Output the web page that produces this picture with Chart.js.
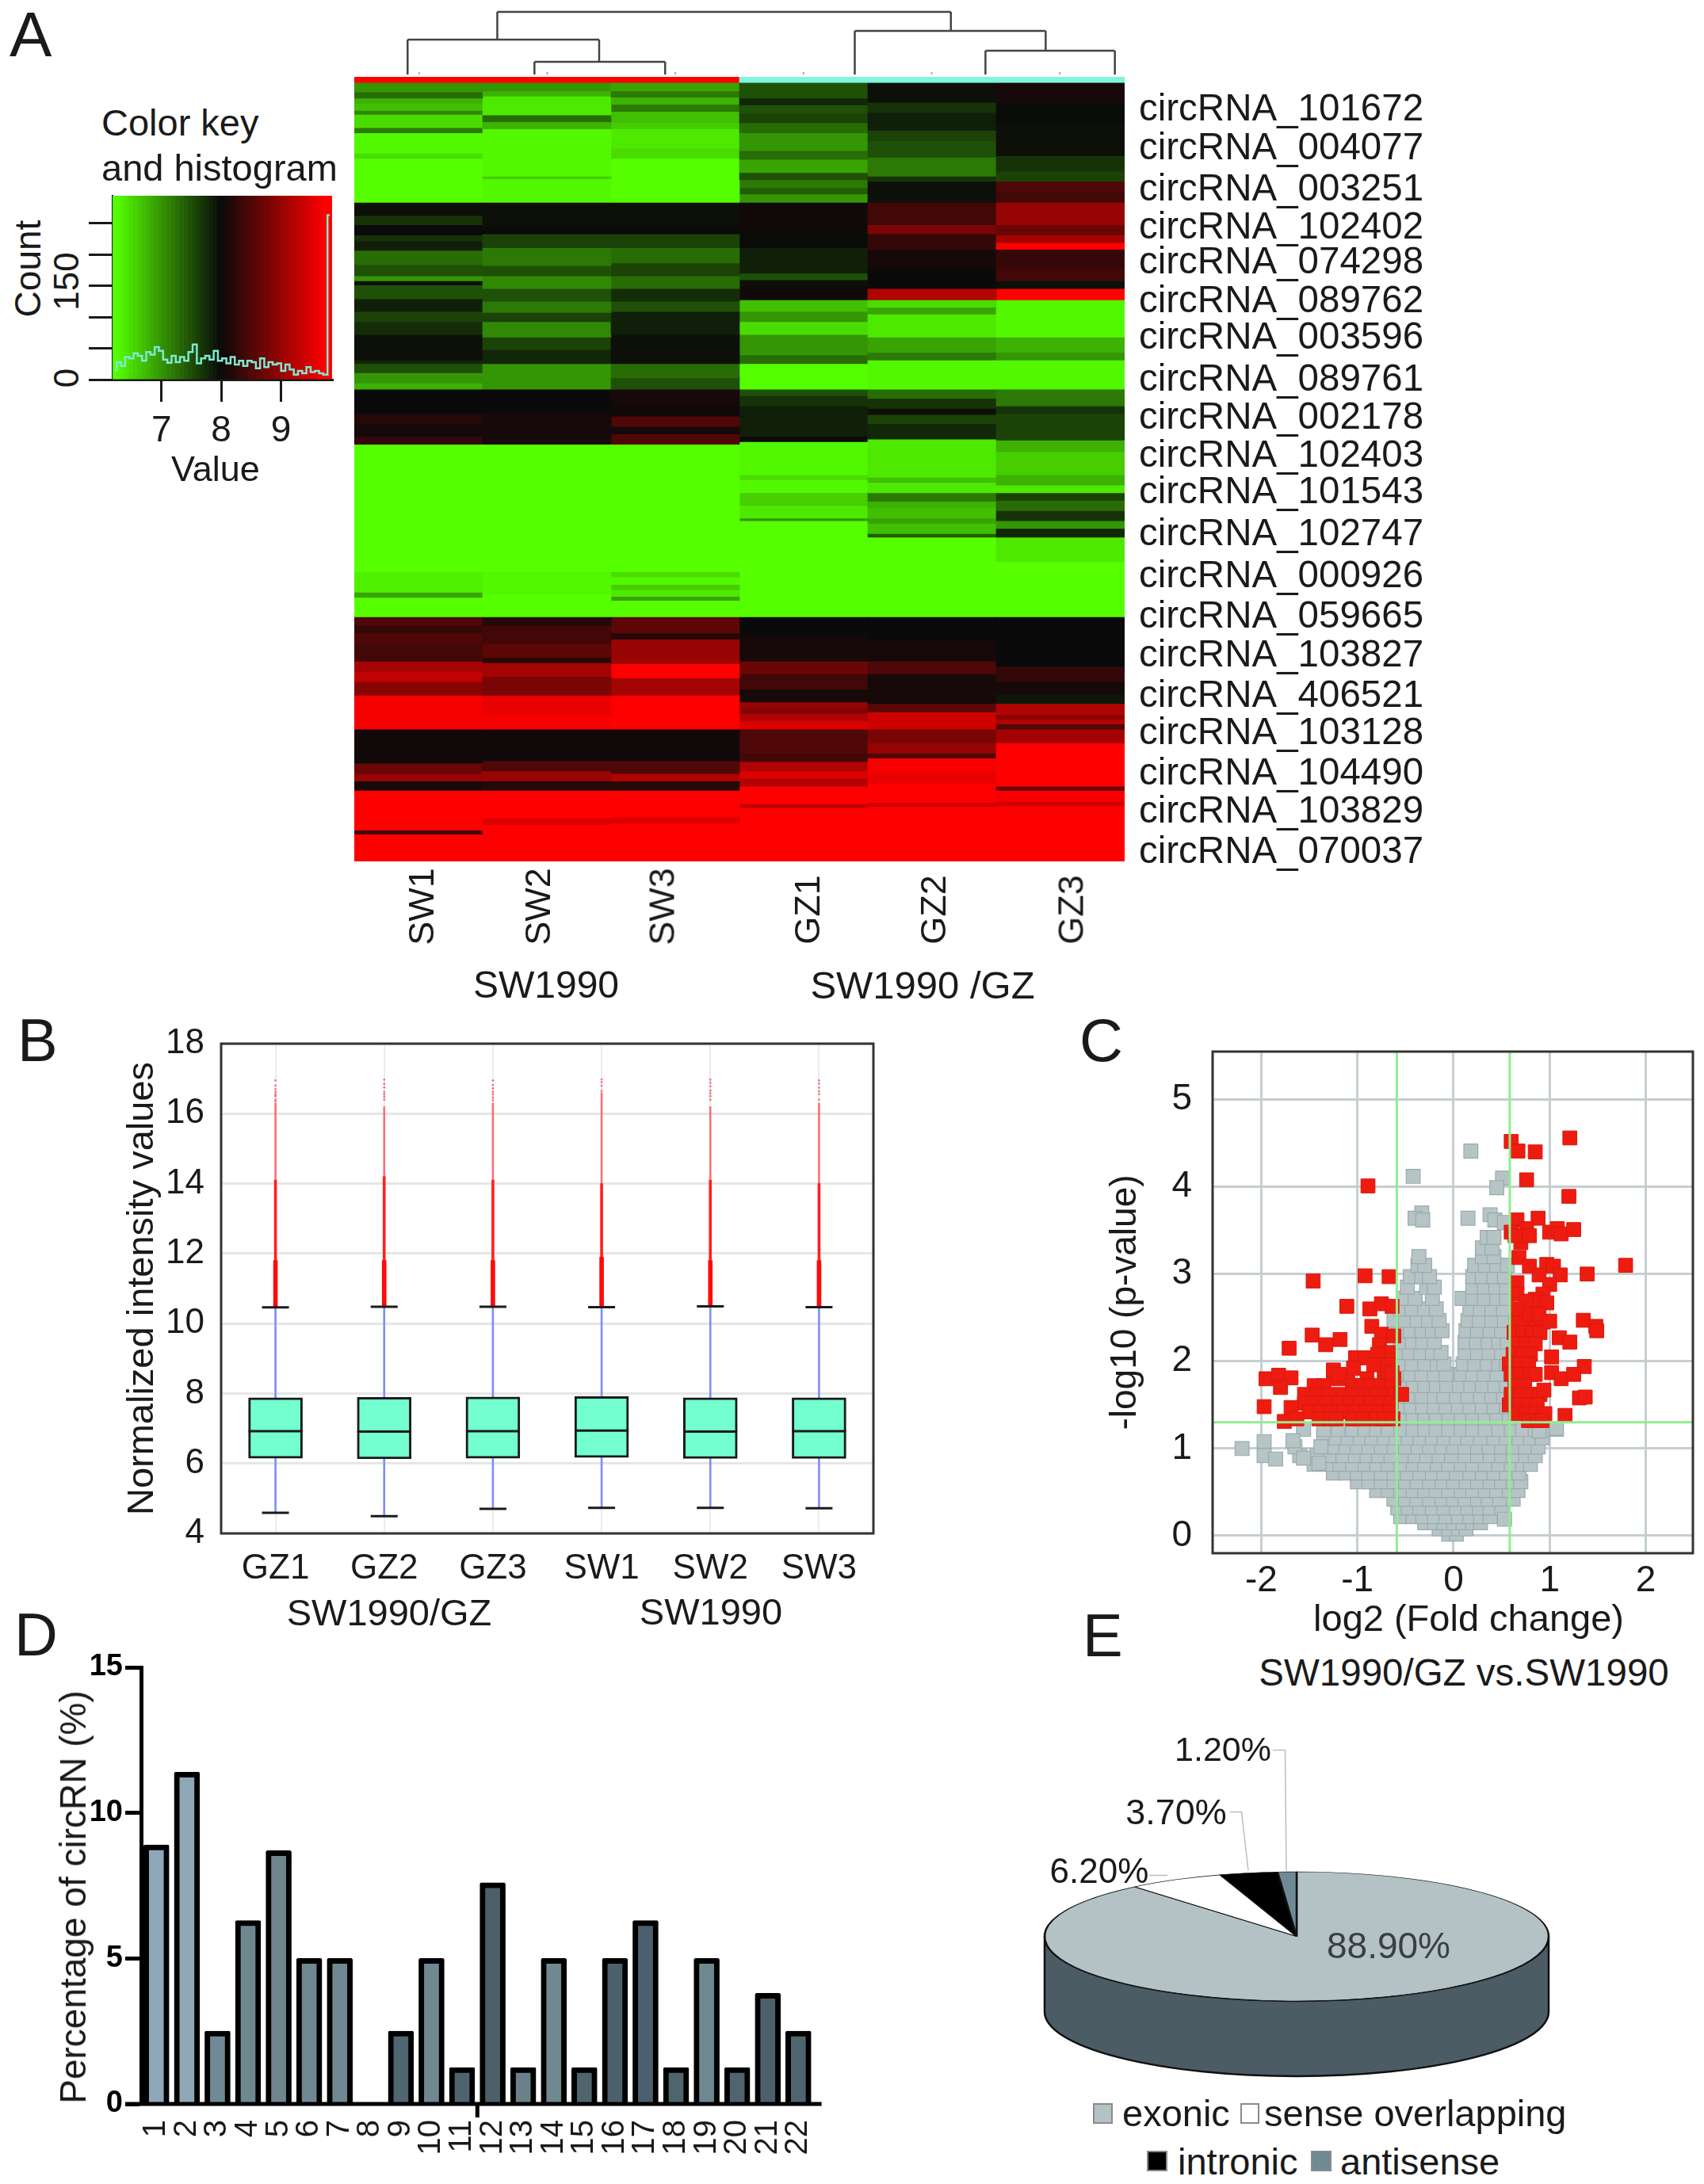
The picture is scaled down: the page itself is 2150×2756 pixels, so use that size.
<!DOCTYPE html>
<html><head><meta charset="utf-8">
<script src="https://cdn.jsdelivr.net/npm/chart.js@4/dist/chart.umd.js"></script>
<style>
html,body{margin:0;padding:0;background:#fff;width:2150px;height:2756px;overflow:hidden}
#page{position:relative;width:2150px;height:2756px;overflow:hidden}
canvas{position:absolute}
.t{position:absolute;white-space:nowrap;font-family:"Liberation Sans",Arial,sans-serif;color:#1a1a1a;line-height:1}
.s{position:absolute;box-sizing:border-box;border:2px solid #8a8a8a}
</style></head><body><div id="page"></div>
<script>
// ---------- Panel A: heatmap bands, [row where the band ends, expression value]
const heatColumns = ["SW1","SW2","SW3","GZ1","GZ2","GZ3"];
const bandsSW1 = [[40,7.0],[52,7.3],[62,6.8],[76,6.7],[84,7.1],[110,6.5],[120,7.2],[160,6.3],[170,6.5],[256,6.25],
 [282,7.95],[300,7.7],[320,8.0],[332,7.7],[350,7.85],[378,7.3],[400,7.5],[410,7.0],[418,7.95],[445,7.5],[470,7.85],[490,7.6],[515,7.75],[565,7.95],[572,7.8],[590,7.5],[610,7.0],[622,6.8],
 [670,8.0],[690,8.2],[715,8.1],[730,8.3],
 [980,6.2],[1020,6.35],[1030,6.9],[1068,6.25],
 [1085,8.5],[1100,8.3],[1120,8.5],[1155,8.4],[1175,9.1],[1195,9.3],[1222,8.9],[1288,9.7],[1355,8.05],[1375,8.7],[1390,9.0],[1408,8.1],[1486,9.8],[1494,8.4],[1548,9.8]];
const bandsSW2 = [[38,7.0],[48,6.8],[85,6.4],[98,7.3],[112,6.8],[205,6.3],[210,6.6],[256,6.3],
 [305,7.95],[318,8.0],[345,7.6],[380,7.2],[400,7.5],[425,7.1],[450,7.5],[472,7.2],[490,7.6],[520,7.1],[545,7.6],[572,7.8],[622,7.0],
 [670,8.0],[730,8.1],
 [980,6.2],[1025,6.3],[1068,6.22],
 [1085,8.2],[1120,8.4],[1148,8.6],[1158,8.2],[1185,9.1],[1222,8.8],[1260,9.6],[1288,9.7],[1350,8.05],[1370,8.5],[1390,9.0],[1408,8.2],[1462,9.8],[1475,9.5],[1548,9.8]];
const bandsSW3 = [[38,6.9],[50,7.2],[64,6.8],[78,7.2],[100,6.7],[112,6.6],[150,6.4],[170,6.5],[256,6.25],
 [300,7.95],[318,8.0],[345,7.6],[375,7.3],[400,7.6],[425,7.3],[450,7.75],[470,7.5],[515,7.85],[572,7.95],[600,7.3],[622,7.5],
 [650,8.1],[675,8.05],[695,8.5],[710,8.1],[730,8.5],
 [980,6.2],[990,6.5],[1005,6.3],[1015,6.6],[1028,6.4],[1036,6.9],[1068,6.22],
 [1100,8.6],[1112,8.2],[1150,9.0],[1160,9.1],[1188,9.8],[1222,9.1],[1288,9.8],[1350,8.05],[1375,8.5],[1390,9.2],[1408,8.2],[1460,9.8],[1472,9.5],[1548,9.8]];
const bandsGZ1 = [[52,7.5],[65,7.8],[82,7.5],[100,7.6],[120,7.3],[155,7.0],[172,7.3],[198,6.9],[212,7.5],[228,7.2],[240,7.4],[256,7.0],
 [315,8.05],[345,7.98],[395,7.85],[408,7.5],[420,7.95],[447,8.05],[470,6.7],[490,7.0],[515,6.5],[555,7.0],[572,7.3],[622,6.25],
 [635,7.5],[655,7.7],[675,7.85],[715,7.85],[725,8.0],
 [790,6.3],[800,6.5],[825,6.3],[850,6.6],[875,6.4],[880,7.0],[1068,6.2],
 [1105,8.0],[1155,8.1],[1180,8.7],[1210,8.4],[1235,8.1],[1245,9.0],[1258,8.9],[1272,9.2],[1288,9.5],[1335,8.5],[1352,8.4],[1370,9.2],[1385,9.5],[1400,9.2],[1435,9.8],[1442,9.3],[1548,9.8]];
const bandsGZ2 = [[60,7.95],[80,7.7],[115,7.85],[135,7.6],[168,7.5],[205,7.2],[215,7.7],[256,7.95],
 [300,8.4],[318,8.8],[348,8.3],[385,8.1],[425,8.0],[447,9.2],[462,6.5],[475,6.9],[520,6.4],[550,6.9],[565,7.2],[622,6.3],
 [640,7.3],[660,7.7],[672,7.95],[690,7.6],[720,7.8],
 [795,6.4],[805,6.7],[825,6.4],[842,7.2],[855,6.8],[875,6.7],[885,6.9],[905,6.7],[912,7.4],[1068,6.2],
 [1115,8.0],[1155,8.1],[1180,8.5],[1238,8.1],[1255,8.6],[1270,9.4],[1288,9.4],[1315,8.8],[1335,9.0],[1345,8.5],[1372,9.7],[1395,9.6],[1432,9.8],[1440,9.4],[1548,9.8]];
const bandsGZ3 = [[60,8.1],[100,7.98],[165,7.95],[195,7.7],[215,7.6],[235,8.5],[256,8.4],
 [300,9.0],[320,8.7],[335,9.1],[348,9.8],[385,8.3],[410,8.4],[425,7.95],[447,9.8],[520,6.3],[550,6.8],[565,7.0],[622,6.3],
 [655,7.2],[670,7.7],[722,7.6],
 [745,6.8],[760,6.6],[790,6.6],[810,6.8],[825,6.4],[840,7.6],[860,7.3],[880,7.7],[895,7.0],[912,7.8],[960,6.4],[1068,6.2],
 [1165,8.0],[1195,8.3],[1220,8.1],[1238,7.9],[1260,9.2],[1268,8.9],[1278,9.2],[1288,8.5],[1315,9.1],[1400,9.8],[1408,8.7],[1430,9.7],[1438,9.4],[1548,9.8]];
const rowLabels = ["circRNA_101672","circRNA_004077","circRNA_003251","circRNA_102402","circRNA_074298","circRNA_089762","circRNA_003596","circRNA_089761","circRNA_002178","circRNA_102403","circRNA_101543","circRNA_102747","circRNA_000926","circRNA_059665","circRNA_103827","circRNA_406521","circRNA_103128","circRNA_104490","circRNA_103829","circRNA_070037"];
const rowLabelRows = [76,152,233,308,376,452,523,606,680,755,826,908,991,1070,1146,1225,1298,1377,1452,1531];
// dendrogram: [col1,height1,col2,height2]
const dendroSegments = [[1.11,79,4.65,79],[1.11,79,1.11,44],[0.41,44,1.905,44],[0.41,44,0.41,0],[1.905,44,1.905,16],[1.40,16,2.42,16],[1.40,16,1.40,0],[2.42,16,2.42,0],
 [4.65,79,4.65,55],[3.90,55,5.39,55],[3.90,55,3.90,0],[5.39,55,5.39,30],[4.92,30,5.93,30],[4.92,30,4.92,0],[5.93,30,5.93,0]];
const dendroLeaves = [0.5,1.5,2.5,3.5,4.5,5.5];
// colour key histogram
const keyCounts = [15,28,22,36,34,42,38,30,44,40,52,46,32,27,38,28,36,30,44,56,26,34,38,32,46,30,34,26,36,24,30,22,30,28,18,34,20,28,24,26,14,24,16,8,14,10,20,12,14,10,8,263];
// ---------- Panel B: box plots
const boxLabels = ["GZ1","GZ2","GZ3","SW1","SW2","SW3"];
const boxQ1 = [6.15,6.13,6.15,6.17,6.14,6.14];
const boxQ3 = [7.88,7.89,7.90,7.91,7.88,7.88];
const boxMedian = [6.92,6.91,6.92,6.94,6.91,6.92];
const whiskerHigh = [10.46,10.48,10.48,10.47,10.49,10.47];
const whiskerLow = [4.59,4.49,4.70,4.73,4.73,4.72];
const outlierDenseTop = [11.8,11.8,11.8,11.9,11.8,11.8];
const outlierMidTop = [14.1,14.2,14.1,14.0,14.1,14.0];
const outlierFaintTop = [16.3,16.2,16.3,16.6,16.2,16.3];
const outliersGZ1 = [16.35,16.4,16.5,16.55,16.62,16.7,16.8,16.95];
const outliersGZ2 = [16.4,16.48,16.55,16.62,16.75,16.85,16.97];
const outliersGZ3 = [16.38,16.46,16.55,16.62,16.72,16.82,16.95];
const outliersSW1 = [16.65,16.8,16.9,16.98];
const outliersSW2 = [16.4,16.5,16.58,16.66,16.78,16.88,16.97];
const outliersSW3 = [16.4,16.56,16.64,16.74,16.86,16.95];
// ---------- Panel C: volcano plot, rows of [log10 p, [fold changes]]
const greyRows = [
[0.02,[-0.05,0.03]],[0.08,[-0.15,-0.05,0.05,0.13]],[0.15,[-0.3,-0.2,-0.1,0,0.1,0.2,0.28]],
[0.22,[-0.55,-0.42,-0.32,-0.2,-0.08,0.05,0.17,0.28,0.38]],[0.32,[-0.58,-0.47,-0.35,-0.22,-0.1,0.03,0.15,0.27,0.38,0.5]],
[0.42,[-0.62,-0.5,-0.38,-0.25,-0.12,0,0.12,0.25,0.36,0.48,0.62]],[0.52,[-0.8,-0.68,-0.55,-0.42,-0.3,-0.18,-0.05,0.08,0.2,0.33,0.45,0.58,0.67]],
[0.62,[-1.0,-0.88,-0.75,-0.62,-0.5,-0.38,-0.25,-0.12,0,0.13,0.25,0.38,0.5,0.62,0.7]],
[0.72,[-1.25,-1.12,-1.0,-0.88,-0.75,-0.62,-0.48,-0.35,-0.22,-0.1,0.03,0.17,0.3,0.42,0.55,0.68]],
[0.82,[-1.45,-1.3,-1.18,-1.05,-0.92,-0.8,-0.68,-0.55,-0.42,-0.3,-0.17,-0.05,0.08,0.2,0.33,0.47,0.6,0.72,0.8]],
[0.92,[-1.6,-1.42,-1.28,-1.15,-1.02,-0.9,-0.78,-0.65,-0.52,-0.4,-0.28,-0.15,-0.02,0.12,0.25,0.38,0.5,0.62,0.75,0.85]],
[1.02,[-1.25,-1.12,-1.0,-0.88,-0.75,-0.62,-0.5,-0.37,-0.25,-0.12,0,0.12,0.25,0.37,0.5,0.62,0.75,0.88]],
[1.12,[-1.35,-1.22,-1.1,-0.97,-0.85,-0.72,-0.6,-0.47,-0.35,-0.22,-0.1,0.03,0.15,0.28,0.42,0.55,0.68,0.8,0.92]],
[1.22,[-1.56,-1.35,-1.2,-1.05,-0.92,-0.8,-0.68,-0.55,-0.42,-0.3,-0.18,-0.05,0.08,0.2,0.33,0.47,0.6,0.72,0.85,0.97,1.07]],
[1.35,[-0.55,-0.42,-0.3,-0.18,-0.05,0.08,0.2,0.33,0.45,0.58]],[1.48,[-0.56,-0.44,-0.32,-0.2,-0.08,0.05,0.17,0.3,0.42,0.55]],
[1.6,[-0.57,-0.45,-0.33,-0.2,-0.1,0.03,0.15,0.28,0.4,0.52]],[1.72,[-0.55,-0.42,-0.3,-0.18,-0.07,0.06,0.18,0.3,0.43,0.55]],
[1.85,[-0.57,-0.45,-0.33,-0.2,-0.08,0.08,0.2,0.32,0.45]],[1.97,[-0.55,-0.43,-0.3,-0.17,-0.1,0.1,0.22,0.35,0.47,0.55]],
[2.1,[-0.58,-0.46,-0.34,-0.22,-0.13,0.12,0.25,0.37,0.5]],[2.22,[-0.55,-0.43,-0.32,-0.2,0.12,0.24,0.36,0.47,0.56]],
[2.35,[-0.58,-0.45,-0.33,-0.22,-0.12,0.13,0.25,0.38,0.5]],[2.47,[-0.62,-0.5,-0.38,-0.26,-0.15,0.15,0.27,0.4,0.53]],
[2.6,[-0.55,-0.43,-0.3,-0.18,0.17,0.28,0.4,0.52]],[2.72,[-0.52,-0.4,-0.22,0.09,0.2,0.32,0.45,0.55]],
[2.85,[-0.48,-0.28,-0.2,0.2,0.32,0.44,0.55]],[2.97,[-0.45,-0.33,-0.25,0.2,0.3,0.42,0.53]],
[3.1,[-0.37,-0.3,0.22,0.33,0.45,0.56]],[3.2,[-0.36,0.3,0.42]],[3.3,[0.3,0.4]],[3.42,[0.35,0.42]]];
const greyX = [0.53,-2.2,-1.97,-1.97,-1.85,-1.65,-1.56,-1.4,-1.67,-1.38,0.89,1.07,0.18,-0.42,0.51,0.45,-0.33,-0.4,-0.32,0.15,0.38,0.43,0.53];
const greyY = [0.19,1.0,1.08,0.92,0.88,1.02,0.89,0.83,1.09,1.02,1.2,1.23,4.41,4.12,4.1,3.99,3.7,3.64,3.62,3.64,3.68,3.62,3.59];
const redRows = [
[2.45,[0.65,0.75,0.85,0.93]],[2.33,[0.63,0.72,0.82,0.9]],[2.2,[0.66,0.76,0.85]],[2.08,[0.62,0.72,0.8]],[1.97,[0.58,0.68,0.78]],
[1.85,[0.6,0.7,0.8,0.85]],[1.72,[0.64,0.74]],[1.62,[0.6,0.7,0.82,0.9]],[1.5,[0.58,0.68,0.78,0.87]],[1.4,[0.65,0.75,0.85,0.95]],[1.32,[0.78,0.88,0.92]],
[1.88,[-0.72]],[1.8,[-1.25,-1.1,-0.9,-0.68,-0.62]],[1.72,[-1.45,-1.35,-1.05,-0.95,-0.85,-0.75,-0.65]],
[1.62,[-1.55,-1.42,-1.3,-1.15,-1.05,-0.92,-0.8,-0.7,-0.62,-0.54]],[1.52,[-1.55,-1.45,-1.32,-1.2,-1.08,-0.98,-0.86,-0.75,-0.65]],
[1.42,[-1.5,-1.38,-1.26,-1.14,-1.02,-0.9,-0.78,-0.66]],[1.34,[-1.4,-1.28,-1.22,-1.05,-0.95,-0.8,-0.72,-0.63]]];
const redX = [0.6,0.67,0.85,1.21,0.76,1.2,-0.89,0.66,0.88,0.6,0.76,0.7,1,1.08,1.12,1.25,0.64,0.79,1.79,1.39,0.68,0.79,0.97,1.04,1.11,0.89,0.66,1,0.93,0.66,0.85,0.76,0.97,0.66,0.79,0.89,1,1.35,1.48,1.49,1.1,1.21,1.02,1.36,1.02,1.12,1.25,1.31,1.37,0.94,1.16,
 -1.46,-0.92,-0.67,-1.11,-0.87,-0.75,-0.64,-0.85,-1.47,-1.33,-1.18,-1.71,-0.75,-0.62,-0.77,-0.66,-1.02,-0.92,-0.79,-0.83,-1.04,-1.25,-1.19,-0.68,-0.64,-1.95,-1.82,-1.69,-1.8,-1.97,-1.69,-1.76,-1.63];
const redY = [4.52,4.41,4.4,4.56,4.08,3.89,4.01,3.62,3.64,3.48,3.52,3.36,3.48,3.52,3.46,3.51,3.44,3.44,3.1,3.0,3.19,3.09,3.11,3.09,2.99,2.99,2.9,2.88,2.77,2.77,2.71,2.69,2.67,2.6,2.54,2.54,2.46,2.47,2.4,2.35,2.27,2.22,2.05,1.94,1.87,1.8,1.85,1.58,1.59,1.67,1.38,
 2.92,2.98,2.97,2.63,2.6,2.66,2.63,2.4,2.3,2.19,2.25,2.15,2.31,2.29,2.19,2.1,2.04,2.04,2.08,1.96,1.92,1.9,1.85,1.96,1.87,1.8,1.84,1.81,1.7,1.48,1.47,1.31,1.34];
const cutoffFold = [-0.59,0.585];
const cutoffP = 1.3;
// ---------- Panel D: chromosome bars
const chromLabels = ["1","2","3","4","5","6","7","8","9","10","11","12","13","14","15","16","17","18","19","20","21","22"];
const chromValues = [8.9,11.4,2.5,6.3,8.7,5,5,0,2.5,5,1.25,7.6,1.25,5,1.25,5,6.3,1.25,5,1.25,3.8,2.5];
const chromColors = ["#8fa8b8","#8fa8b8","#6f8a94","#6f8890","#70858e","#6f8790","#6f8790","#4f656f","#4f656f","#708890","#4f636d","#4c5f69","#6b8088","#708890","#4f656c","#4c606c","#4c5f6c","#4f646c","#6f8890","#4f646d","#4c606c","#4f656d"];
// ---------- Panel E: pie
const pieLabels = ["exonic","sense overlapping","intronic","antisense"];
const pieValues = [88.9,6.2,3.7,1.2];
const pieColors = ["#b4c2c6","#ffffff","#000000","#6f8a94"];

// ---------- helpers
const page = document.getElementById("page");
const FF = '"Liberation Sans", Arial, sans-serif';
Chart.defaults.font.family = FF;
Chart.defaults.color = "#1a1a1a";
Chart.defaults.animation = false;
Chart.defaults.responsive = false;
Chart.defaults.devicePixelRatio = 1;
Chart.defaults.plugins.legend.display = false;
Chart.defaults.plugins.tooltip.enabled = false;

function text(s, x, y, size, o) {
  o = o || {};
  const d = document.createElement("div"); d.className = "t"; d.textContent = s;
  d.style.fontSize = size + "px"; d.style.left = x + "px"; d.style.top = y + "px";
  if (o.color) d.style.color = o.color;
  if (o.bold) d.style.fontWeight = "bold";
  let tr = o.center ? "translate(-50%,-50%)" : "translateY(-50%)";
  if (o.rot) tr = "translate(-50%,-50%) rotate(-90deg)";
  d.style.transform = tr;
  page.appendChild(d);
}
function swatch(x, y, w, h, bg) {
  const d = document.createElement("div"); d.className = "s";
  d.style.cssText += `left:${x}px;top:${y}px;width:${w}px;height:${h}px;background:${bg}`;
  page.appendChild(d);
}
// area = plot rectangle on the page; m = margins around it for axes
function chart(area, m, cfg) {
  const c = document.createElement("canvas");
  c.width = area.w + m.l + m.r; c.height = area.h + m.t + m.b;
  c.style.left = (area.x - m.l) + "px"; c.style.top = (area.y - m.t) + "px";
  page.appendChild(c);
  cfg.options = cfg.options || {};
  const sc = cfg.options.scales;
  const xHidden = !sc || !sc.x || sc.x.display === false;
  cfg.options.layout = {padding:{top:m.t,right:m.pr===undefined?m.r:m.pr,left:0,bottom:xHidden?m.b:0}};
  if (sc) {
    if (sc.x && sc.x.display !== false && !sc.x.afterFit) sc.x.afterFit = a => { a.height = m.b; };
    if (sc.y && sc.y.display !== false && !sc.y.afterFit) sc.y.afterFit = a => { a.width = m.l; };
  }
  return new Chart(c, cfg);
}
const frame = (color, w) => ({id:"frame", afterDraw(ch){ const a=ch.chartArea,x=ch.ctx; x.save(); x.strokeStyle=color; x.lineWidth=w; x.strokeRect(a.left,a.top,a.right-a.left,a.bottom-a.top); x.restore(); }});
function exprColor(v){
  let t,r,g,b;
  if (v<8){ t=Math.min(1,(8-v)/1.75); r=10+75*t; g=10+245*t; b=10*(1-t); }
  else { t=Math.min(1,(v-8)/1.75); r=10+245*t; g=10*(1-t); b=10*(1-t); }
  return `rgb(${r|0},${g|0},${b|0})`;
}

// ---------- A: dendrogram
chart({x:448,y:5,w:970,h:89},{l:0,t:0,r:0,b:0},{type:"scatter",
  data:{datasets:[
    ...dendroSegments.map(s=>({data:[{x:s[0],y:s[1]},{x:s[2],y:s[3]}],showLine:true,borderColor:"#444",borderWidth:2.5,pointRadius:0})),
    ...dendroLeaves.map(v=>({data:[{x:v,y:3},{x:v,y:0}],showLine:true,borderColor:"#aaa",borderWidth:2,pointRadius:0}))
  ]},
  options:{scales:{x:{type:"linear",display:false,min:0,max:6},y:{display:false,min:0,max:89}}}});

// ---------- A: heatmap
const heatSources = [bandsSW1,bandsSW2,bandsSW3,bandsGZ1,bandsGZ2,bandsGZ3];
const heatStripColors = ["#ff0000","#ff0000","#ff0000","#7ff5dc","#7ff5dc","#7ff5dc"];
const heatMax = Math.max(...heatSources.map(b=>b.length));
const heatDatasets = [{data:heatColumns.map(()=>[11,22]),backgroundColor:heatStripColors}];
for (let i=0;i<heatMax;i++){
  heatDatasets.push({
    data:heatSources.map(b=>b[i]?[i?b[i-1][0]:22,b[i][0]+0.8]:null),
    backgroundColor:heatSources.map(b=>b[i]?exprColor(b[i][1]):"#000")
  });
}
chart({x:447,y:97,w:972,h:990},{l:0,t:60,r:400,pr:0,b:60},{type:"bar",
  data:{labels:heatColumns,datasets:heatDatasets.map(d=>Object.assign(d,{barPercentage:1,categoryPercentage:1,borderWidth:0}))},
  options:{scales:{
    x:{display:false,stacked:true},
    y:{type:"linear",position:"right",reverse:true,min:11,max:1548,
       afterBuildTicks(a){a.ticks=rowLabelRows.map(v=>({value:v}));},
       afterFit(a){a.width=400;},
       grid:{display:false,drawTicks:false},border:{display:false},
       ticks:{autoSkip:false,padding:18,color:"#1a1a1a",font:{size:47.5},callback:(v,i)=>rowLabels[i]}}
  }}});

// ---------- A: colour key
const binCentre = i => 6.215 + i*0.0706;
chart({x:142,y:247,w:278,h:232},{l:30,t:60,r:40,b:110},{type:"bar",
  data:{datasets:[
    {type:"line",data:keyCounts.map((c,i)=>({x:binCentre(i),y:c})),stepped:"middle",borderColor:"#7fe8d0",borderWidth:2.5,pointRadius:0,order:0},
    {data:keyCounts.map((c,i)=>({x:binCentre(i),y:294})),backgroundColor:keyCounts.map((c,i)=>exprColor(binCentre(i))),barPercentage:1.15,categoryPercentage:1,borderWidth:0,order:1}
  ]},
  options:{scales:{
    x:{type:"linear",offset:false,min:6.18,max:9.87,grid:{offset:false,drawOnChartArea:false,tickLength:28,tickWidth:3,tickColor:"#1a1a1a"},border:{color:"#1a1a1a",width:3},
       ticks:{stepSize:1,includeBounds:false,padding:10,font:{size:46},color:"#1a1a1a",maxRotation:0}},
    y:{min:0,max:294,grid:{drawOnChartArea:false,tickLength:30,tickWidth:3,tickColor:"#1a1a1a"},border:{color:"#1a1a1a",width:2},
       ticks:{stepSize:50,includeBounds:false,display:false}}
  }}});

// ---------- B: box plots
const outlierSets = [outliersGZ1,outliersGZ2,outliersGZ3,outliersSW1,outliersSW2,outliersSW3];
const capStyle = {type:"line",showLine:false,pointStyle:"line",pointBorderColor:"#1a1a1a",pointBorderWidth:3};
chart({x:279,y:1317,w:823,h:618},{l:127,t:60,r:60,b:80},{type:"bar",
  data:{labels:boxLabels,datasets:[
    Object.assign({data:boxMedian,pointRadius:34,order:0},capStyle),
    {data:boxQ1.map((q,i)=>[q,boxQ3[i]]),backgroundColor:"#74ffd0",borderColor:"#1a1a1a",borderWidth:3,borderSkipped:false,barThickness:68,order:1},
    Object.assign({data:whiskerHigh,pointRadius:17,order:2},capStyle),
    Object.assign({data:whiskerLow,pointRadius:17,order:2},capStyle),
    {data:whiskerHigh.map((h,i)=>[h,outlierDenseTop[i]]),backgroundColor:"#ff0a0a",barThickness:5,borderWidth:0,order:3},
    {data:outlierDenseTop.map((h,i)=>[h,outlierMidTop[i]]),backgroundColor:"#ff2020",barThickness:3,borderWidth:0,order:3},
    {data:outlierMidTop.map((h,i)=>[h,outlierFaintTop[i]]),backgroundColor:"rgba(255,60,70,.7)",barThickness:2,borderWidth:0,order:3},
    {type:"line",showLine:false,data:outlierSets.flatMap((s,i)=>s.map(v=>({x:boxLabels[i],y:v}))),pointRadius:1.4,pointBackgroundColor:"rgba(245,60,70,.7)",pointBorderWidth:0,order:3},
    {data:whiskerLow.map((l,i)=>[l,whiskerHigh[i]]),backgroundColor:"#7f90f2",barThickness:2,borderWidth:0,order:4}
  ]},
  options:{scales:{
    x:{stacked:true,grid:{color:"#ececec",lineWidth:2,offset:false,drawTicks:false},border:{display:false},ticks:{padding:18,font:{size:44},color:"#1a1a1a",maxRotation:0}},
    y:{min:4,max:18,grid:{color:"#e6e6e6",lineWidth:3,drawTicks:false},border:{display:false},
       ticks:{stepSize:2,padding:21,font:{size:44},color:"#1a1a1a"},
       title:{display:true,text:"Normalized intensity values",font:{size:47},color:"#1a1a1a",padding:0}}
  }},
  plugins:[frame("#333",3)]});

// ---------- C: volcano
const greyPts = greyRows.flatMap(r=>r[1].map(x=>({x,y:r[0]}))).concat(greyX.map((x,i)=>({x,y:greyY[i]})));
const redPts = redRows.flatMap(r=>r[1].map(x=>({x,y:r[0]}))).concat(redX.map((x,i)=>({x,y:redY[i]})));
const greenLine = {showLine:true,borderColor:"#90ee90",borderWidth:3,pointRadius:0,order:0};
chart({x:1530,y:1327,w:606,h:633},{l:137,t:60,r:14,b:70},{type:"scatter",
  data:{datasets:[
    Object.assign({data:[{x:cutoffFold[0],y:-0.2},{x:cutoffFold[0],y:5.55}]},greenLine),
    Object.assign({data:[{x:cutoffFold[1],y:-0.2},{x:cutoffFold[1],y:5.55}]},greenLine),
    Object.assign({data:[{x:-2.506,y:cutoffP},{x:2.49,y:cutoffP}]},greenLine),
    {data:redPts,pointStyle:"rect",pointRadius:12.5,backgroundColor:"#ee1c10",pointBorderColor:"#d8190f",pointBorderWidth:1,order:1},
    {data:greyPts,pointStyle:"rect",pointRadius:12.5,backgroundColor:"#b6c4c6",pointBorderColor:"#9aabad",pointBorderWidth:1.2,order:2}
  ]},
  options:{scales:{
    x:{type:"linear",min:-2.506,max:2.49,afterFit(a){a.height=70;a.paddingRight=0;a.paddingLeft=0;},
       grid:{color:"#c6ced1",lineWidth:3,drawTicks:false},border:{display:false},
       ticks:{stepSize:1,includeBounds:false,padding:8,font:{size:46},color:"#1a1a1a",maxRotation:0}},
    y:{min:-0.2,max:5.55,grid:{color:"#c6ced1",lineWidth:3,drawTicks:false},border:{display:false},
       ticks:{stepSize:1,includeBounds:false,padding:26,font:{size:46},color:"#1a1a1a"},
       title:{display:true,text:"-log10 (p-value)",font:{size:46},color:"#1a1a1a",padding:0}}
  }},
  plugins:[frame("#333",3)]});

// ---------- D: bars
const baseline = {id:"baseline",afterDraw(ch){
  const x=ch.ctx,a=ch.chartArea,s=ch.scales.x;
  x.save(); x.strokeStyle="#000"; x.lineWidth=5;
  x.beginPath(); x.moveTo(a.left-20,a.bottom); x.lineTo(a.right+10,a.bottom);
  x.moveTo(s.getPixelForValue(10.5),a.bottom); x.lineTo(s.getPixelForValue(10.5),a.bottom+17); x.stroke(); x.restore();
}};
chart({x:178,y:2104,w:868,h:551},{l:75,t:60,r:30,b:100},{type:"bar",
  data:{labels:chromLabels,datasets:[{data:chromValues,backgroundColor:chromColors,borderColor:"#000",borderWidth:7,barThickness:32,borderRadius:2}]},
  options:{scales:{
    x:{grid:{display:false,drawTicks:false},border:{display:false},ticks:{autoSkip:false,minRotation:90,maxRotation:90,padding:20,font:{size:40},color:"#1a1a1a"}},
    y:{min:0,max:15,grid:{drawOnChartArea:false,tickLength:20,tickWidth:5,tickColor:"#000"},border:{color:"#000",width:5},
       ticks:{stepSize:5,padding:3,font:{size:38,weight:"bold"},color:"#000"}}
  }},
  plugins:[baseline]});

// ---------- E: pie
const pieRx = 318, pieRy = 81.5, pieDepth = 95;
const pie3d = {id:"pie3d",
  beforeDatasetsDraw(ch){
    const m=ch.getDatasetMeta(0).data[0],c=ch.ctx,cx=m.x,cy=m.y,r=m.outerRadius;
    c.save();
    c.beginPath(); c.ellipse(cx,cy+pieDepth,r,pieRy,0,0,Math.PI);
    c.lineTo(cx-r,cy); c.ellipse(cx,cy,r,pieRy,0,Math.PI,0,true); c.closePath();
    c.fillStyle="#4b5c65"; c.fill(); c.strokeStyle="#111"; c.lineWidth=2.5; c.stroke();
    c.translate(cx,cy); c.scale(1,pieRy/r); c.translate(-cx,-cy);
  },
  afterDatasetsDraw(ch){
    const c=ch.ctx,m=ch.getDatasetMeta(0).data[0]; c.restore();
    const ox=m.x, oy=m.y;
    c.save(); c.strokeStyle="#bdbdbd"; c.lineWidth=1.5; c.beginPath();
    c.moveTo(ox-13,oy-83); c.lineTo(ox-14.5,oy-235); c.lineTo(ox-30,oy-235);
    c.moveTo(ox-61,oy-83); c.lineTo(ox-69.5,oy-157); c.lineTo(ox-84,oy-157);
    c.moveTo(ox-163,oy-77); c.lineTo(ox-186,oy-77); c.stroke(); c.restore();
  }};
chart({x:1296,y:2190,w:680,h:507},{l:0,t:0,r:0,b:0},{type:"pie",
  data:{labels:pieLabels,datasets:[{data:pieValues,backgroundColor:pieColors,borderColor:"#111",borderWidth:2.5,radius:pieRx,clip:false}]},
  options:{},plugins:[pie3d]});

// ---------- text outside the axes
text("A",12,44,80); text("B",22,1313,76); text("C",1362,1313,76); text("D",18,2063,76); text("E",1366,2064,76);
text("Color key",128,154,47); text("and histogram",128,211,47);
text("Count",35,339,46,{rot:1}); text("150",84,355,44,{rot:1}); text("0",84,477,44,{rot:1});
text("Value",272,591,45,{center:1});
const heatLabelX = [531,678,835,1018,1177,1351], heatLabelBottom = 1192;
heatColumns.forEach((s,i)=>{
  const len = s[0]==="S" ? 48 : 44;
  text(s,heatLabelX[i],heatLabelBottom-len,45,{rot:1});
});
text("SW1990",689,1243,48,{center:1}); text("SW1990 /GZ",1164,1243,49,{center:1});
text("SW1990/GZ",491,2034,47,{center:1}); text("SW1990",897,2033,47,{center:1});
text("log2 (Fold change)",1853,2041,47,{center:1});
text("SW1990/GZ vs.SW1990",1847,2111,47.5,{center:1});
text("Percentage of circRN (%)",92,2394,46,{rot:1});
text("1.20%",1543,2207,43,{center:1}); text("3.70%",1484,2286,45,{center:1}); text("6.20%",1387,2361,44,{center:1});
text("88.90%",1752,2455,46,{center:1,color:"#3a3f42"});
swatch(1379,2654,25,26,pieColors[0]); text(pieLabels[0],1416,2666,47);
swatch(1565,2654,24,26,pieColors[1]); text(pieLabels[1],1595,2666,47);
swatch(1447,2714,26,26,pieColors[2]); text(pieLabels[2],1486,2727,47);
swatch(1654,2714,26,26,pieColors[3]); text(pieLabels[3],1691,2727,47);
</script></body></html>
